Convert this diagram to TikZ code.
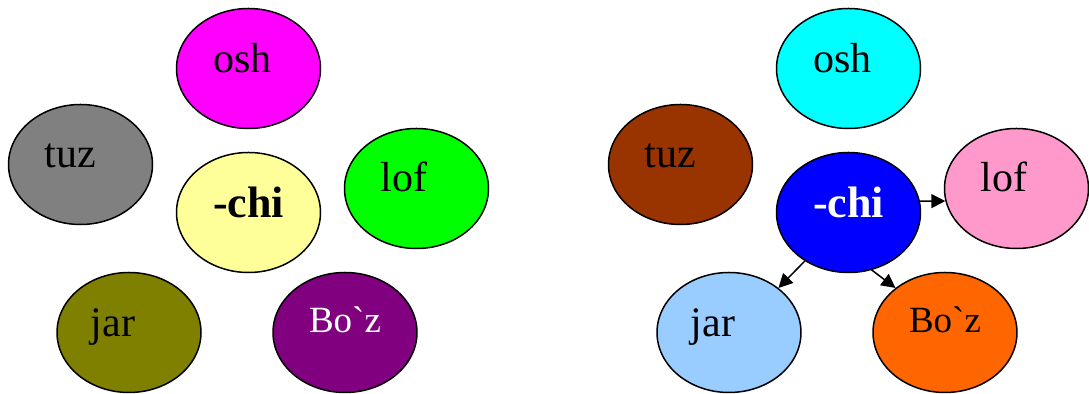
\documentclass[tikz,border=0pt]{standalone}
\usepackage{fontspec}
\setmainfont{Liberation Serif}
\usetikzlibrary{shapes.geometric,arrows.meta}
\tikzset{
	blob/.style={ellipse,draw,line width=0.75pt,minimum width=72pt,minimum height=60pt,inner sep=0pt},
	tag/.style={inner sep=0pt,text height=0pt,text depth=0pt,font=\fontsize{21}{25}\selectfont},
	tagb/.style={tag,font=\fontsize{22}{26}\selectfont\bfseries},
	tags/.style={tag,font=\fontsize{18.5}{22}\selectfont}
}
\definecolor{cMag}{HTML}{FF00FF}
\definecolor{cGray}{HTML}{808080}
\definecolor{cYel}{HTML}{FFFF99}
\definecolor{cGreen}{HTML}{00FF00}
\definecolor{cOlive}{HTML}{808000}
\definecolor{cPurp}{HTML}{800080}
\definecolor{cCyan}{HTML}{00FFFF}
\definecolor{cBrown}{HTML}{993300}
\definecolor{cBlue}{HTML}{0000FF}
\definecolor{cPink}{HTML}{FF99CC}
\definecolor{cSky}{HTML}{99CCFF}
\definecolor{cOrange}{HTML}{FF6600}
\begin{document}
\begin{tikzpicture}[x=0.5pt,y=-0.5pt,line join=round,line cap=round,>={Triangle[length=7pt,width=7pt]}]
	\useasboundingbox (0,0) rectangle (1089,394);
	% left group
	\node[blob,fill=cMag,label={[tag,xshift=-3pt,yshift=-2.25pt]center:osh}] (oshA) at (248.5,68.5) {};
	\node[blob,fill=cGray,label={[tag,xshift=-5pt,yshift=-1.75pt]center:tuz}] (tuzA) at (80.5,164.5) {};
	\node[blob,fill=cYel,label={[tagb,yshift=-2.75pt]center:-chi}] (chiA) at (248.5,212.5) {};
	\node[blob,fill=cGreen,label={[tag,xshift=-6.25pt,yshift=-1.75pt]center:lof}] (lofA) at (416.5,188.5) {};
	\node[blob,fill=cOlive,label={[tag,xshift=-8pt,yshift=-2.25pt]center:jar}] (jarA) at (129,332.5) {};
	\node[blob,fill=cPurp,label={[tags,text=white]center:Bo\textasciigrave z}] (bozA) at (345,332.5) {};
	% right group
	\node[blob,fill=cCyan,label={[tag,xshift=-3pt,yshift=-2.25pt]center:osh}] (oshB) at (848.5,68.5) {};
	\node[blob,fill=cBrown,label={[tag,xshift=-5pt,yshift=-1.75pt]center:tuz}] (tuzB) at (680.5,164.5) {};
	\node[blob,fill=cBlue,label={[tagb,text=white,yshift=-2.75pt]center:-chi}] (chiB) at (848.5,212.5) {};
	\node[blob,fill=cPink,label={[tag,xshift=-6.25pt,yshift=-1.75pt]center:lof}] (lofB) at (1016.5,188.5) {};
	\node[blob,fill=cSky,label={[tag,xshift=-8pt,yshift=-2.25pt]center:jar}] (jarB) at (729,332.5) {};
	\node[blob,fill=cOrange,label={[tags]center:Bo\textasciigrave z}] (bozB) at (945,332.5) {};
	\draw[->,line width=0.75pt] (chiB.9)--(lofB.190);
	\draw[->,line width=0.75pt] (chiB.228)--(jarB.42);
	\draw[->,line width=0.75pt] (chiB.292)--(bozB.138);
\end{tikzpicture}
\end{document}
